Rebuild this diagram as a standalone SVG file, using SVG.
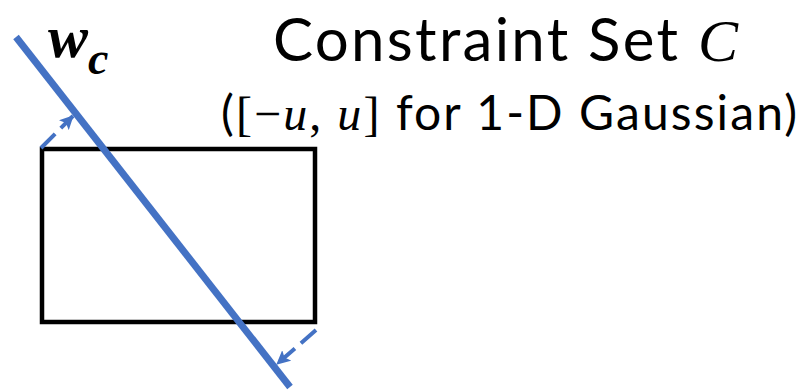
<svg xmlns="http://www.w3.org/2000/svg" width="800" height="391" viewBox="0 0 800 391">
<style>
.lbl{font-family:Lato,"Open Sans","Liberation Sans",sans-serif;fill:#000}
.math{font-family:"Liberation Serif","DejaVu Serif",serif}
.it{font-style:italic}
.dash{fill:none;stroke:#4472C4;stroke-width:4;stroke-dasharray:20 8}
</style>
<defs>
<marker id="ah" viewBox="0 0 14 14" refX="13" refY="7" markerWidth="14" markerHeight="14" markerUnits="userSpaceOnUse" orient="auto">
<path d="M0,0 L14,7 L0,14 L3,7 Z" fill="#4472C4"/>
</marker>
</defs>
<rect width="800" height="391" fill="#fff"/>
<g id="constraint-set">
<rect x="42" y="149" width="273" height="173" fill="none" stroke="#000" stroke-width="4.5"/>
</g>
<g id="wc-line">
<line x1="16" y1="37" x2="290" y2="387" stroke="#4472C4" stroke-width="7"/>
<text class="math" x="48" y="57" font-size="60" font-weight="bold" font-style="italic">w<tspan font-size="46" y="74">c</tspan></text>
</g>
<g id="title">
<text class="lbl" x="273" y="61" font-size="60" textLength="465" lengthAdjust="spacing">Constraint Set <tspan class="math it">C</tspan></text>
<text class="lbl" x="221" y="130" font-size="48" textLength="576" lengthAdjust="spacing">(<tspan class="math">[−</tspan><tspan class="math it">u</tspan><tspan class="math">, </tspan><tspan class="math it">u</tspan><tspan class="math">]</tspan> for 1-D Gaussian)</text>
</g>
<g id="connectors">
<path class="dash" d="M41,148 L73,116" marker-end="url(#ah)"/>
<path class="dash" d="M316,330 L277,364" marker-end="url(#ah)"/>
</g>
</svg>
